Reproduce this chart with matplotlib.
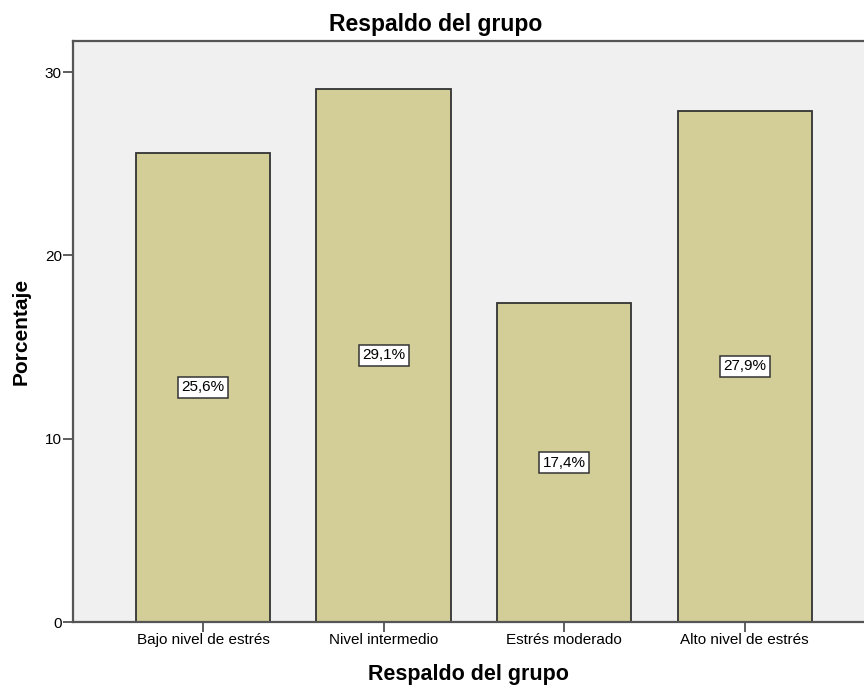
import matplotlib
matplotlib.use('Agg')
import matplotlib.pyplot as plt

categorias = ["Bajo nivel de estrés", "Nivel intermedio", "Estrés moderado", "Alto nivel de estrés"]
porcentajes = [25.6, 29.1, 17.4, 27.9]
etiquetas = ["25,6%", "29,1%", "17,4%", "27,9%"]
yticks = [0, 10, 20, 30]

plt.rcParams['font.family'] = ['Liberation Sans', 'DejaVu Sans']

fig = plt.figure(figsize=(8.64, 6.89), dpi=100)
ax = fig.add_axes([73 / 864, 1 - 622 / 689, 1 - 73 / 864, (622 - 41) / 689])
ax.set_facecolor("#F0F0F0")

x = range(len(categorias))
ax.bar(x, porcentajes, width=0.745, color="#D3CE97", edgecolor="#333333", linewidth=1.3, zorder=2)

# etiquetas de porcentaje en el centro de cada barra
for xi, v, lab in zip(x, porcentajes, etiquetas):
    ax.text(xi, v / 2, lab, ha="center", va="center", fontsize=11, zorder=3,
            bbox=dict(boxstyle="square,pad=0.22", facecolor="white", edgecolor="#333333", linewidth=1.1))

ax.set_xlim(-0.72, 3.66)
ax.set_ylim(0, 31.7)
ax.set_xticks(list(x))
ax.set_xticklabels(categorias, fontsize=11)
ax.set_yticks(yticks)
ax.set_yticklabels([str(t) for t in yticks], fontsize=11)
ax.tick_params(axis="both", length=7, width=1.1, color="#333333", pad=1)

for s in ["left", "bottom", "top"]:
    ax.spines[s].set_color("#555555")
    ax.spines[s].set_linewidth(1.6)
ax.spines["right"].set_visible(False)

ax.set_title("Respaldo del grupo", fontsize=16.5, fontweight="bold", pad=7, x=(436 - 73) / 791)
ax.set_xlabel("Respaldo del grupo", fontsize=15.5, fontweight="bold", labelpad=12)
ax.set_ylabel("Porcentaje", fontsize=15, fontweight="bold")
ax.yaxis.set_label_coords(-0.053, 0.5)

plt.savefig("out.png", dpi=100)
plt.close()
